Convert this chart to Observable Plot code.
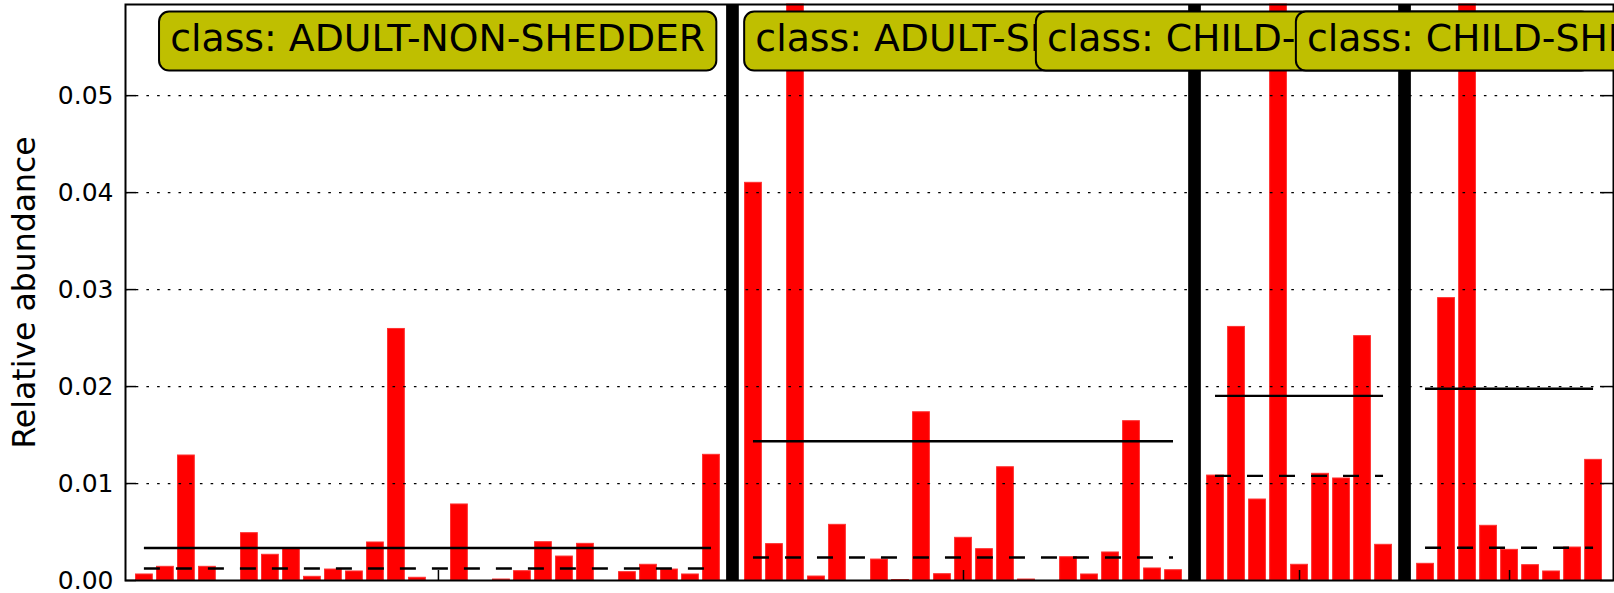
<!DOCTYPE html>
<html>
<head>
<meta charset="utf-8">
<script src="https://cdn.jsdelivr.net/npm/d3@7"></script>
<script src="https://cdn.jsdelivr.net/npm/@observablehq/plot@0.6"></script>
<style>
  html, body { margin: 0; padding: 0; background: #ffffff; }
  #chart svg { display: block; }
</style>
</head>
<body>
<div id="chart"></div>
<script>
// ---- data ----
const classNames = ["ADULT-NON-SHEDDER", "ADULT-SHEDDER", "CHILD-NON-SHEDDER", "CHILD-SHEDDER"];

const adultNonShedder = [0.00062, 0.00141, 0.01289, 0.00141, 0, 0.00488, 0.00265, 0.00333, 0.00038, 0.00113,
  0.00093, 0.00392, 0.02594, 0.00028, 0, 0.00784, 0, 0.0001, 0.00096, 0.00395,
  0.00247, 0.00378, 0, 0.00086, 0.00162, 0.00113, 0.00062, 0.01296];
const adultShedder = [0.04101, 0.00375, 0.186, 0.00041, 0.00574, 0, 0.00216, 0.00005, 0.01735, 0.00065,
  0.0044, 0.00323, 0.01168, 0.0001, 0, 0.0024, 0.00062, 0.00289, 0.01643, 0.00124, 0.00106];
const childNonShedder = [0.01082, 0.02615, 0.00835, 0.074, 0.00162, 0.011, 0.01052, 0.0252, 0.00368];
const childShedder = [0.00172, 0.02912, 0.12, 0.00564, 0.00316, 0.00158, 0.00093, 0.0034, 0.01244];

const classMeans = [0.00335, 0.01436, 0.01904, 0.01978];
const classMedians = [0.00124, 0.00237, 0.01079, 0.00337];

const yTicks = [0, 0.01, 0.02, 0.03, 0.04, 0.05];
const yLabel = "Relative abundance";

// ---- derived table ----
const classValues = [adultNonShedder, adultShedder, childNonShedder, childShedder];
let cursor = 0;
const groups = classValues.map((vals, k) => {
  const g = {name: classNames[k], start: cursor, count: vals.length, mean: classMeans[k], median: classMedians[k]};
  cursor += vals.length + 1;
  return g;
});
const bars = groups.flatMap((g, k) => classValues[k].map((v, i) => ({idx: g.start + i, value: v})));
const separators = groups.slice(1).map(g => g.start - 0.6);
const classTicks = groups.map(g => Math.floor(g.start + g.count / 2) + 0.4);

// label text anchors (x, in bar-index units)
const labelAnchors = [1.63, 29.49, 43.38, 55.76];

// ---- layout ----
const W = 1614, H = 593;
const mL = 125, mR = 1, mT = 4, mB = 13;
const frameW = W - mL - mR, frameH = H - mT - mB;
const labelFont = 37.8;

const svg = Plot.plot({
  width: W, height: H,
  marginLeft: mL, marginRight: mR, marginTop: mT, marginBottom: mB,
  style: {fontFamily: "DejaVu Sans", fontSize: "25px", background: "#ffffff", color: "#000000"},
  x: {type: "linear", domain: [-0.5, 70.35], axis: null},
  y: {domain: [0, 0.0594], clamp: true},
  marks: [
    Plot.rectY(bars, {x1: "idx", x2: d => d.idx + 0.8, y: "value", fill: "#ff0000", stroke: "#ff3030", strokeWidth: 1}),
    Plot.ruleY(yTicks.slice(1), {y: d => d, stroke: "#000", strokeWidth: 1.3, strokeDasharray: "2.6,8.1"}),
    Plot.ruleY(groups, {y: "mean", x1: d => d.start + 0.4, x2: d => d.start + d.count - 1 + 0.4, stroke: "#000", strokeWidth: 2.4}),
    Plot.ruleY(groups, {y: "median", x1: d => d.start + 0.4, x2: d => d.start + d.count - 1 + 0.4, stroke: "#000", strokeWidth: 2.4, strokeDasharray: "16,16"}),
    Plot.ruleX(separators, {x: d => d, stroke: "#000", strokeWidth: 12.7}),
    Plot.tickY(yTicks, {y: d => d, insetRight: frameW - 11, stroke: "#000", strokeWidth: 1.5}),
    Plot.tickY(yTicks, {y: d => d, insetLeft: frameW - 13, stroke: "#000", strokeWidth: 1.5}),
    Plot.tickX(classTicks, {x: d => d, insetTop: frameH - 10, stroke: "#000", strokeWidth: 1.5}),
    Plot.axisY(yTicks, {tickSize: 0, tickPadding: 12, tickFormat: d3.format(".2f"), fontSize: 25, label: null}),
    Plot.frame({stroke: "#000", strokeWidth: 2}),
    Plot.text([yLabel], {frameAnchor: "left", textAnchor: "middle", lineAnchor: "middle", rotate: -90, dx: -101, fontSize: 31.5, fill: "#000"}),
    Plot.text(groups, {
      x: (d, i) => labelAnchors[i], text: d => "class: " + d.name,
      frameAnchor: "top", textAnchor: "start", lineAnchor: "top", dy: 19.2,
      fontSize: labelFont, fill: "#000", className: "cls-label"
    })
  ]
});

document.getElementById("chart").append(svg);

// rounded label boxes drawn behind each class label
const ns = "http://www.w3.org/2000/svg";
svg.querySelectorAll("g.cls-label text").forEach(t => {
  const b = t.getBBox();
  const r = document.createElementNS(ns, "rect");
  const padX = 11.2;
  r.setAttribute("x", b.x - padX);
  r.setAttribute("y", b.y - 4);
  r.setAttribute("width", b.width + 2 * padX);
  r.setAttribute("height", b.height + 15);
  r.setAttribute("rx", 10);
  r.setAttribute("ry", 10);
  r.setAttribute("fill", "#bfbf00");
  r.setAttribute("stroke", "#000");
  r.setAttribute("stroke-width", 2);
  const tr = t.getAttribute("transform");
  if (tr) r.setAttribute("transform", tr);
  t.parentNode.insertBefore(r, t);
});
</script>
</body>
</html>
